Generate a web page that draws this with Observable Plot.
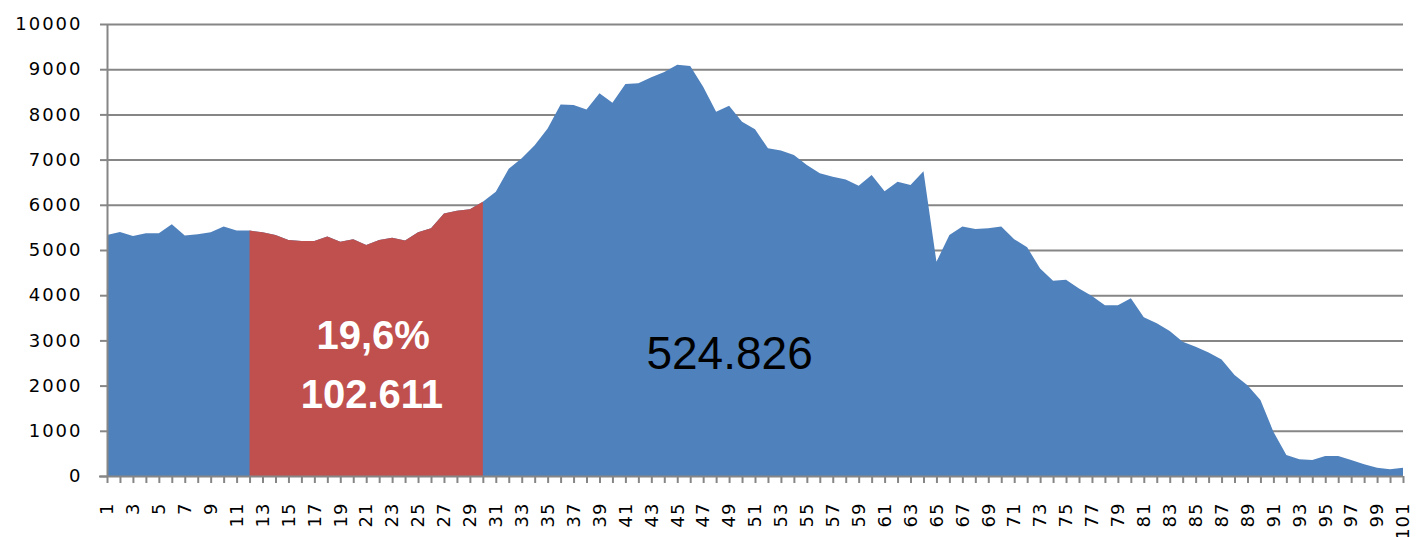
<!DOCTYPE html>
<html><head><meta charset="utf-8">
<script src="https://cdn.jsdelivr.net/npm/d3@7"></script>
<script src="https://cdn.jsdelivr.net/npm/@observablehq/plot@0.6"></script>
<style>
  html,body{margin:0;padding:0;background:#fff;}
  #chart svg{display:block;}
  g[aria-label="y-axis tick label"] text{letter-spacing:2px;}
  g[aria-label="x-axis tick label"] text{letter-spacing:1px;}
</style>
</head><body><div id="chart"></div>
<script>
// categories 1..101
const categories = d3.range(1, 102);
const values = [
  5330, 5400, 5310, 5370, 5370, 5570, 5320, 5350, 5390, 5520,
  5430, 5430, 5390, 5330, 5220, 5200, 5200, 5300, 5185, 5240,
  5110, 5220, 5270, 5210, 5390, 5480, 5810, 5870, 5900, 6070,
  6290, 6800, 7030, 7320, 7690, 8220, 8210, 8110, 8470, 8260,
  8670, 8690, 8820, 8940, 9100, 9070, 8610, 8060, 8190, 7840,
  7670, 7250, 7200, 7100, 6880, 6700, 6620, 6560, 6420, 6660,
  6300, 6510, 6440, 6740, 4740, 5330, 5520, 5465, 5480, 5520,
  5240, 5060, 4590, 4320, 4340, 4150, 3980, 3780, 3780, 3930,
  3510, 3380, 3210, 2970, 2860, 2730, 2580, 2235, 2010, 1680,
  980, 465, 370, 355, 440, 440, 355, 260, 185, 150,
  185
];
const highlightRange = [12, 30];
const yTicks = [0, 1000, 2000, 3000, 4000, 5000, 6000, 7000, 8000, 9000, 10000];
const xTickLabels = categories.filter(c => c % 2 === 1);
const highlightLabels = ["19,6%", "102.611"];
const highlightLabelX = [21.5, 21.4];
const highlightLabelY = [3100, 1810];
const totalLabel = ["524.826"];
const totalLabelX = [49.0];
const totalLabelY = [2700];

const data = categories.map((c, i) => ({cat: c, value: values[i]}));
const highlight = data.filter(d => d.cat >= highlightRange[0] && d.cat <= highlightRange[1]);
const hl = highlightLabels.map((t, i) => ({t, x: highlightLabelX[i], y: highlightLabelY[i]}));
const tl = totalLabel.map((t, i) => ({t, x: totalLabelX[i], y: totalLabelY[i]}));

const gray = "#868686";
const chart = Plot.plot({
  width: 1416,
  height: 537,
  marginLeft: 107,
  marginRight: 13,
  marginTop: 24,
  marginBottom: 61,
  style: {background: "#fff", fontFamily: "DejaVu Sans", color: "black"},
  x: {domain: [1, 101]},
  y: {domain: [0, 10000]},
  marks: [
    Plot.ruleY(yTicks.filter(d => d > 0), {y: d => d, x1: 1, x2: 101, stroke: gray, strokeWidth: 2}),
    Plot.areaY(data, {x: "cat", y: "value", fill: "#4F81BD"}),
    Plot.areaY(highlight, {x: "cat", y: "value", fill: "#C0504D"}),
    Plot.ruleX([1], {x: d => d, y1: 0, y2: 10000, stroke: gray, strokeWidth: 2}),
    Plot.ruleY([0], {y: d => d, x1: 1, x2: 101, stroke: gray, strokeWidth: 2, insetLeft: -8}),
    Plot.axisY({ticks: yTicks, tickSize: 7, tickPadding: 18, tickFormat: d => String(d), stroke: gray, strokeWidth: 2, strokeOpacity: 1, fill: "black", fontSize: 18, fontFamily: "DejaVu Sans", label: null}),
    Plot.axisX({ticks: categories, tickSize: 7, tickFormat: () => "", stroke: gray, strokeWidth: 2, strokeOpacity: 1, label: null}),
    Plot.axisX({ticks: xTickLabels, tickSize: 0, tickPadding: 26, tickRotate: -90, textAnchor: "end", lineAnchor: "middle", tickFormat: d => String(d), fill: "black", fontSize: 18, fontFamily: "DejaVu Sans", label: null}),
    Plot.text(hl, {x: "x", y: "y", text: "t", fill: "white", fontWeight: "bold", fontSize: 40, fontFamily: "Liberation Sans", lineAnchor: "middle"}),
    Plot.text(tl, {x: "x", y: "y", text: "t", fill: "black", fontSize: 46, fontFamily: "Liberation Sans", lineAnchor: "middle"})
  ]
});
document.getElementById("chart").appendChild(chart);
</script>
</body></html>
